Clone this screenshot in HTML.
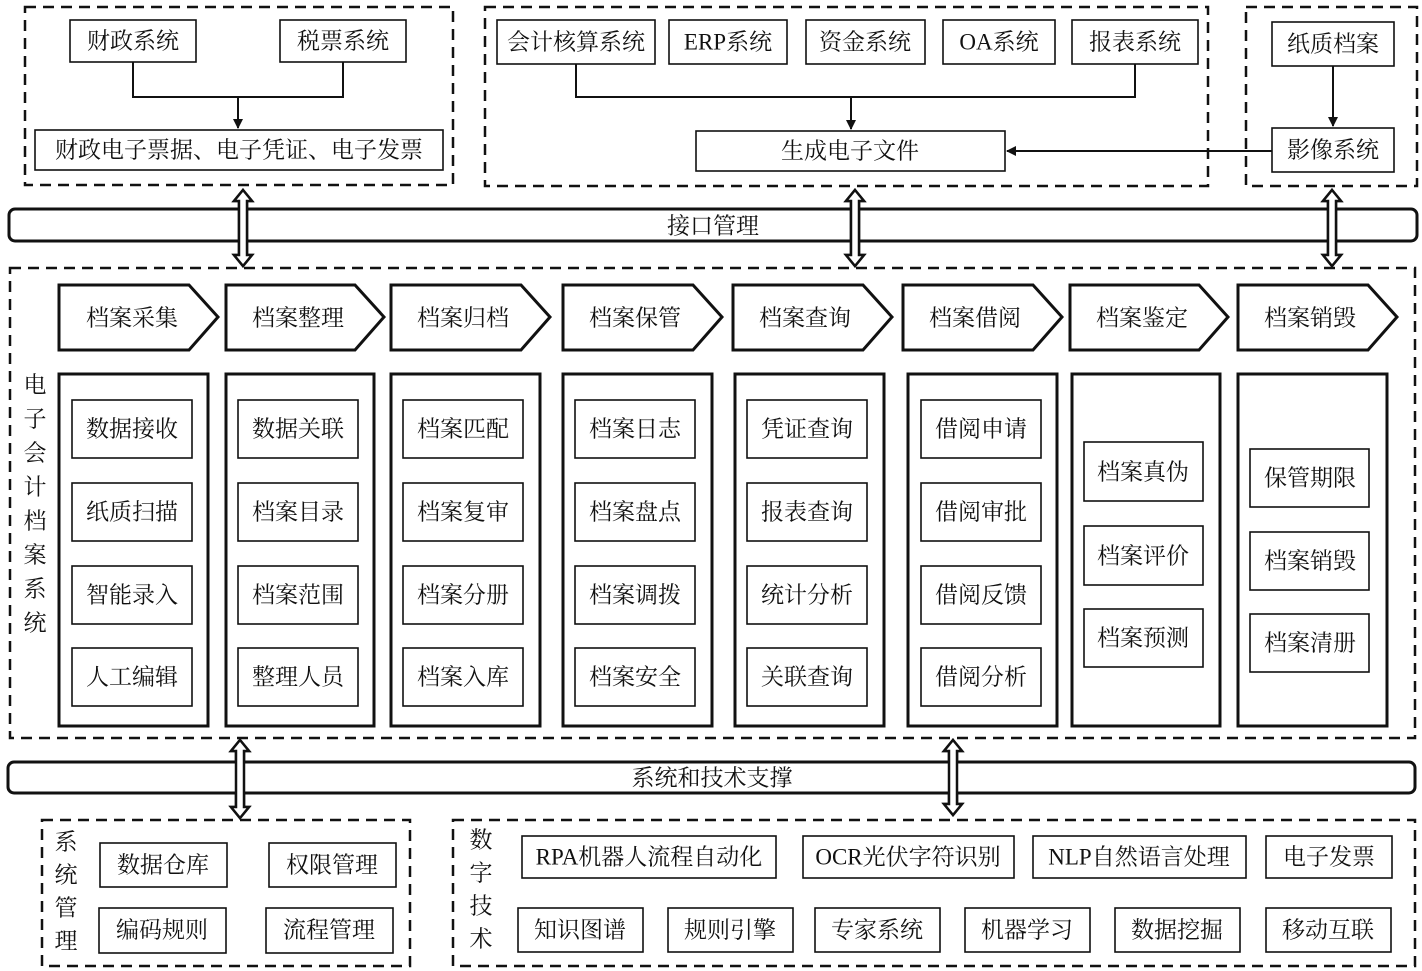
<!DOCTYPE html>
<html><head><meta charset="utf-8"><style>
html,body{margin:0;padding:0;background:#fff;}
svg{display:block;}
text{font-family:"Liberation Serif","Noto Serif CJK SC",serif;font-size:23px;fill:#111;text-anchor:middle;dominant-baseline:central;}
.d{fill:none;stroke:#111;stroke-width:2.5;stroke-dasharray:11,7;}
.b{fill:#fff;stroke:#111;stroke-width:1.6;}
.c{fill:#fff;stroke:#111;stroke-width:3;}
.l{fill:none;stroke:#111;stroke-width:2;}
</style></head><body>
<svg width="1422" height="971" viewBox="0 0 1422 971" xmlns="http://www.w3.org/2000/svg">
<defs>
<marker id="ah" markerWidth="10" markerHeight="10" refX="9" refY="5" orient="auto" markerUnits="userSpaceOnUse"><path d="M0,0 L10,5 L0,10 z" fill="#111"/></marker>
</defs>
<!-- top left -->
<rect class="d" x="25" y="7" width="428" height="178"/>
<rect class="b" x="70" y="20" width="126" height="42"/><text x="133" y="41">财政系统</text>
<rect class="b" x="280" y="20" width="126" height="42"/><text x="343" y="41">税票系统</text>
<path class="l" d="M133,62 V97 H343 V62 M238,97 V128" marker-end="url(#ah)"/>
<rect class="b" x="35" y="130" width="408" height="40"/><text x="239" y="150">财政电子票据、电子凭证、电子发票</text>
<!-- top middle -->
<rect class="d" x="485" y="7" width="723" height="179"/>
<rect class="b" x="497" y="20" width="158" height="44"/><text x="576" y="42">会计核算系统</text>
<rect class="b" x="669" y="20" width="118" height="44"/><text x="728" y="42">ERP系统</text>
<rect class="b" x="806" y="20" width="119" height="44"/><text x="865" y="42">资金系统</text>
<rect class="b" x="943" y="20" width="112" height="44"/><text x="999" y="42">OA系统</text>
<rect class="b" x="1072" y="20" width="126" height="44"/><text x="1135" y="42">报表系统</text>
<path class="l" d="M576,64 V97 H1135 V64 M851,97 V129" marker-end="url(#ah)"/>
<rect class="b" x="696" y="131" width="309" height="40"/><text x="850" y="151">生成电子文件</text>
<!-- top right -->
<rect class="d" x="1246" y="7" width="171" height="179"/>
<rect class="b" x="1272" y="22" width="122" height="44"/><text x="1333" y="44">纸质档案</text>
<path class="l" d="M1333,66 V126" marker-end="url(#ah)"/>
<rect class="b" x="1272" y="128" width="122" height="44"/><text x="1333" y="150">影像系统</text>
<path class="l" d="M1272,151 H1007" marker-end="url(#ah)"/>
<!-- interface bar -->
<rect x="9" y="209" width="1408" height="32" rx="6" fill="#fff" stroke="#111" stroke-width="3"/>
<text x="713" y="226">接口管理</text>
<!-- double arrows -->
<g fill="#fff" stroke="#111" stroke-width="2.5">
<path d="M243,190 L252,201 L247,201 L247,255 L252,255 L243,266 L234,255 L239,255 L239,201 L234,201 Z"/>
<path d="M855,190 L864,201 L859,201 L859,255 L864,255 L855,266 L846,255 L851,255 L851,201 L846,201 Z"/>
<path d="M1332,190 L1341,201 L1336,201 L1336,255 L1341,255 L1332,266 L1323,255 L1328,255 L1328,201 L1323,201 Z"/>
<path d="M240,740 L249,751 L244,751 L244,807 L249,807 L240,818 L231,807 L236,807 L236,751 L231,751 Z"/>
<path d="M953,740 L962,751 L957,751 L957,804 L962,804 L953,815 L944,804 L949,804 L949,751 L944,751 Z"/>
</g>
<!-- main box -->
<rect class="d" x="10" y="268" width="1405" height="470"/>
<g font-size="24">
<text x="35" y="385">电</text><text x="35" y="419">子</text><text x="35" y="453">会</text><text x="35" y="487">计</text><text x="35" y="521">档</text><text x="35" y="555">案</text><text x="35" y="589">系</text><text x="35" y="623">统</text>
</g>
<!-- chevrons -->
<g class="c">
<path class="c" d="M59,285 H189 L218,317 L189,350 H59 Z"/>
<path class="c" d="M226,285 H355 L384,317 L355,350 H226 Z"/>
<path class="c" d="M391,285 H521 L550,317 L521,350 H391 Z"/>
<path class="c" d="M563,285 H693 L722,317 L693,350 H563 Z"/>
<path class="c" d="M733,285 H863 L892,317 L863,350 H733 Z"/>
<path class="c" d="M903,285 H1033 L1062,317 L1033,350 H903 Z"/>
<path class="c" d="M1070,285 H1199 L1228,317 L1199,350 H1070 Z"/>
<path class="c" d="M1238,285 H1368 L1397,317 L1368,350 H1238 Z"/>
</g>
<text x="132" y="318">档案采集</text><text x="298" y="318">档案整理</text><text x="463" y="318">档案归档</text><text x="635" y="318">档案保管</text><text x="805" y="318">档案查询</text><text x="975" y="318">档案借阅</text><text x="1142" y="318">档案鉴定</text><text x="1310" y="318">档案销毁</text>
<!-- columns -->
<rect class="c" x="59" y="374" width="149" height="352"/>
<rect class="c" x="226" y="374" width="148" height="352"/>
<rect class="c" x="391" y="374" width="149" height="352"/>
<rect class="c" x="563" y="374" width="149" height="352"/>
<rect class="c" x="735" y="374" width="149" height="352"/>
<rect class="c" x="908" y="374" width="149" height="352"/>
<rect class="c" x="1072" y="374" width="148" height="352"/>
<rect class="c" x="1238" y="374" width="149" height="352"/>
<!-- inner boxes col1-6 -->
<g>
<rect class="b" x="72" y="400" width="120" height="58"/><rect class="b" x="72" y="483" width="120" height="58"/><rect class="b" x="72" y="566" width="120" height="58"/><rect class="b" x="72" y="648" width="120" height="58"/>
<rect class="b" x="238" y="400" width="120" height="58"/><rect class="b" x="238" y="483" width="120" height="58"/><rect class="b" x="238" y="566" width="120" height="58"/><rect class="b" x="238" y="648" width="120" height="58"/>
<rect class="b" x="403" y="400" width="120" height="58"/><rect class="b" x="403" y="483" width="120" height="58"/><rect class="b" x="403" y="566" width="120" height="58"/><rect class="b" x="403" y="648" width="120" height="58"/>
<rect class="b" x="575" y="400" width="120" height="58"/><rect class="b" x="575" y="483" width="120" height="58"/><rect class="b" x="575" y="566" width="120" height="58"/><rect class="b" x="575" y="648" width="120" height="58"/>
<rect class="b" x="747" y="400" width="120" height="58"/><rect class="b" x="747" y="483" width="120" height="58"/><rect class="b" x="747" y="566" width="120" height="58"/><rect class="b" x="747" y="648" width="120" height="58"/>
<rect class="b" x="921" y="400" width="120" height="58"/><rect class="b" x="921" y="483" width="120" height="58"/><rect class="b" x="921" y="566" width="120" height="58"/><rect class="b" x="921" y="648" width="120" height="58"/>
<rect class="b" x="1084" y="442" width="119" height="59"/><rect class="b" x="1084" y="526" width="119" height="59"/><rect class="b" x="1084" y="609" width="119" height="58"/>
<rect class="b" x="1250" y="449" width="119" height="58"/><rect class="b" x="1250" y="532" width="119" height="58"/><rect class="b" x="1250" y="614" width="119" height="58"/>
</g>
<text x="132" y="429">数据接收</text><text x="132" y="512">纸质扫描</text><text x="132" y="595">智能录入</text><text x="132" y="677">人工编辑</text>
<text x="298" y="429">数据关联</text><text x="298" y="512">档案目录</text><text x="298" y="595">档案范围</text><text x="298" y="677">整理人员</text>
<text x="463" y="429">档案匹配</text><text x="463" y="512">档案复审</text><text x="463" y="595">档案分册</text><text x="463" y="677">档案入库</text>
<text x="635" y="429">档案日志</text><text x="635" y="512">档案盘点</text><text x="635" y="595">档案调拨</text><text x="635" y="677">档案安全</text>
<text x="807" y="429">凭证查询</text><text x="807" y="512">报表查询</text><text x="807" y="595">统计分析</text><text x="807" y="677">关联查询</text>
<text x="981" y="429">借阅申请</text><text x="981" y="512">借阅审批</text><text x="981" y="595">借阅反馈</text><text x="981" y="677">借阅分析</text>
<text x="1143" y="472">档案真伪</text><text x="1143" y="556">档案评价</text><text x="1143" y="638">档案预测</text>
<text x="1310" y="478">保管期限</text><text x="1310" y="561">档案销毁</text><text x="1310" y="643">档案清册</text>
<!-- system bar -->
<rect x="8" y="762" width="1407" height="31" rx="6" fill="#fff" stroke="#111" stroke-width="3"/>
<text x="712" y="778">系统和技术支撑</text>
<!-- arrows over bar -->
<g fill="#fff" stroke="#111" stroke-width="2.5">
<path d="M240,740 L249,751 L244,751 L244,807 L249,807 L240,818 L231,807 L236,807 L236,751 L231,751 Z"/>
<path d="M953,740 L962,751 L957,751 L957,804 L962,804 L953,815 L944,804 L949,804 L949,751 L944,751 Z"/>
</g>
<g fill="#fff" stroke="#111" stroke-width="2.5">
<path d="M243,190 L252,201 L247,201 L247,255 L252,255 L243,266 L234,255 L239,255 L239,201 L234,201 Z"/>
<path d="M855,190 L864,201 L859,201 L859,255 L864,255 L855,266 L846,255 L851,255 L851,201 L846,201 Z"/>
<path d="M1332,190 L1341,201 L1336,201 L1336,255 L1341,255 L1332,266 L1323,255 L1328,255 L1328,201 L1323,201 Z"/>
</g>
<!-- bottom left -->
<rect class="d" x="42" y="820" width="368" height="146"/>
<g font-size="24"><text x="66" y="842">系</text><text x="66" y="875">统</text><text x="66" y="908">管</text><text x="66" y="941">理</text></g>
<rect class="b" x="100" y="843" width="127" height="44"/><text x="163" y="865">数据仓库</text>
<rect class="b" x="269" y="843" width="127" height="44"/><text x="332" y="865">权限管理</text>
<rect class="b" x="99" y="908" width="127" height="45"/><text x="162" y="930">编码规则</text>
<rect class="b" x="266" y="908" width="127" height="45"/><text x="329" y="930">流程管理</text>
<!-- bottom right -->
<rect class="d" x="453" y="820" width="962" height="146"/>
<g font-size="24"><text x="481" y="840">数</text><text x="481" y="873">字</text><text x="481" y="906">技</text><text x="481" y="939">术</text></g>
<rect class="b" x="522" y="836" width="254" height="42"/><text x="649" y="857">RPA机器人流程自动化</text>
<rect class="b" x="803" y="836" width="211" height="42"/><text x="908" y="857">OCR光伏字符识别</text>
<rect class="b" x="1033" y="836" width="213" height="42"/><text x="1139" y="857">NLP自然语言处理</text>
<rect class="b" x="1266" y="836" width="126" height="42"/><text x="1329" y="857">电子发票</text>
<rect class="b" x="518" y="908" width="125" height="44"/><text x="580" y="930">知识图谱</text>
<rect class="b" x="668" y="908" width="125" height="44"/><text x="730" y="930">规则引擎</text>
<rect class="b" x="815" y="908" width="125" height="44"/><text x="877" y="930">专家系统</text>
<rect class="b" x="965" y="908" width="125" height="44"/><text x="1027" y="930">机器学习</text>
<rect class="b" x="1115" y="908" width="125" height="44"/><text x="1177" y="930">数据挖掘</text>
<rect class="b" x="1266" y="908" width="125" height="44"/><text x="1328" y="930">移动互联</text>
</svg>
</body></html>
